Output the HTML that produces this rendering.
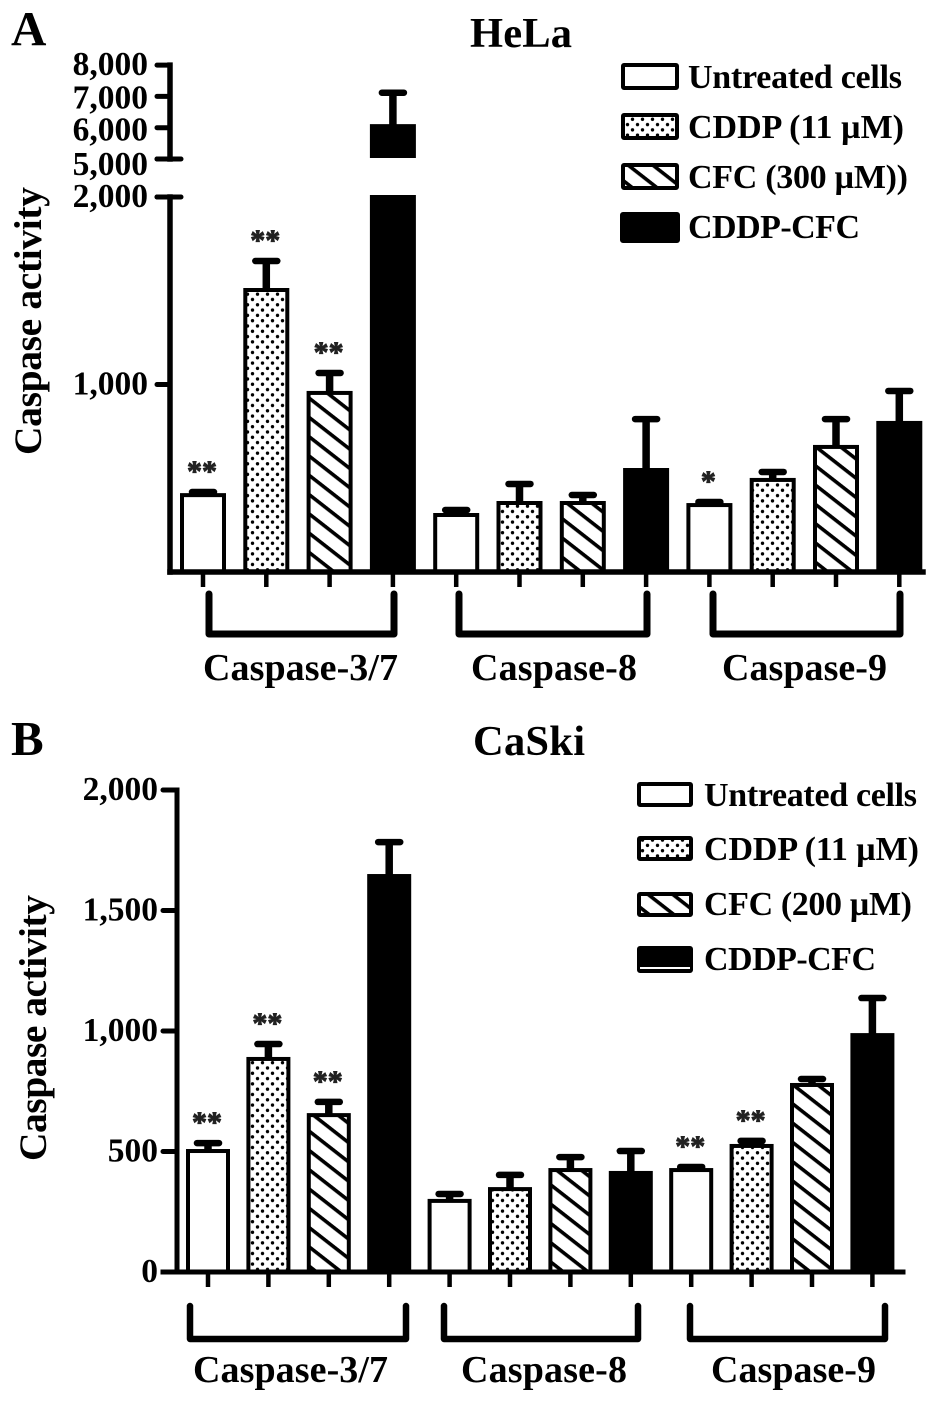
<!DOCTYPE html>
<html lang="en">
<head>
<meta charset="utf-8">
<title>Caspase activity in HeLa and CaSki cells</title>
<style>
html,body{margin:0;padding:0;background:#fff;}
#figure{display:block;width:945px;height:1404px;}
text{font-family:"Liberation Serif",serif;font-weight:bold;fill:#000;}
</style>
</head>
<body>
<svg id="figure" xmlns="http://www.w3.org/2000/svg" width="945" height="1404" viewBox="0 0 945 1404">
<defs>
<pattern id="dots" patternUnits="userSpaceOnUse" width="10" height="10.6">
<circle cx="2.5" cy="2.7" r="1.7" fill="#000"/>
<circle cx="7.5" cy="8" r="1.7" fill="#000"/>
</pattern>
<pattern id="hatch" patternUnits="userSpaceOnUse" width="30" height="15.2" patternTransform="rotate(38)">
<rect x="0" y="0" width="30" height="3.6" fill="#000"/>
</pattern>
</defs>
<rect x="0" y="0" width="945" height="1404" fill="#fff"/>
<g id="panelA">
<text x="11" y="45" font-size="49">A</text>
<text x="470" y="47" font-size="42.5" textLength="102">HeLa</text>
<text transform="translate(41,455) rotate(-90)" font-size="39.5" textLength="268">Caspase activity</text>
<text x="203" y="680" font-size="38" textLength="195">Caspase-3/7</text>
<text x="471" y="680" font-size="38" textLength="166">Caspase-8</text>
<text x="722" y="680" font-size="38" textLength="165">Caspase-9</text>
<g>
<text x="688" y="88" font-size="34" textLength="214">Untreated cells</text>
<text x="688" y="138" font-size="34" textLength="216">CDDP (11 µM)</text>
<text x="688" y="188" font-size="34" textLength="220">CFC (300 µM))</text>
<text x="688" y="238" font-size="34" textLength="172">CDDP-CFC</text>
</g>
</g>
<g id="panelB">
<text x="11" y="755" font-size="49">B</text>
<text x="473" y="755" font-size="42.5" textLength="112">CaSki</text>
<text transform="translate(46,1161) rotate(-90)" font-size="39.5" textLength="266">Caspase activity</text>
<text x="193" y="1382" font-size="38" textLength="195">Caspase-3/7</text>
<text x="461" y="1382" font-size="38" textLength="166">Caspase-8</text>
<text x="711" y="1382" font-size="38" textLength="165">Caspase-9</text>
<g>
<text x="704" y="806" font-size="34" textLength="213">Untreated cells</text>
<text x="704" y="860" font-size="34" textLength="215">CDDP (11 µM)</text>
<text x="704" y="915" font-size="34" textLength="208">CFC (200 µM)</text>
<text x="704" y="970" font-size="34" textLength="172">CDDP-CFC</text>
</g>
</g>
</svg>
<script>
var groups = ['Caspase-3/7', 'Caspase-8', 'Caspase-9'];
var seriesNames = ['untreated', 'cddp', 'cfc', 'cddp-cfc'];

var helaMeans = [410, 1504, 955, 6050, 304, 368, 368, 544, 357, 491, 667, 795];
var helaUpper = [432, 1664, 1067, 7150, 336, 475, 416, 821, 379, 539, 821, 971];
var helaMarks = ['**', '**', '**', '', '', '', '', '', '*', '', '', ''];
var helaTicks = [1000, 2000, 5000, 6000, 7000, 8000];
var helaTickLabels = ['1,000', '2,000', '5,000', '6,000', '7,000', '8,000'];

var caskiMeans = [502, 884, 651, 1643, 295, 344, 423, 411, 423, 523, 776, 983];
var caskiUpper = [539, 950, 710, 1788, 328, 407, 481, 506, 440, 548, 805, 1141];
var caskiMarks = ['**', '**', '**', '', '', '', '', '', '**', '**', '', ''];
var caskiTicks = [0, 500, 1000, 1500, 2000];
var caskiTickLabels = ['0', '500', '1,000', '1,500', '2,000'];

var NS = 'http://www.w3.org/2000/svg';

function yHela(v) {
  if (v <= 2000) { return 572 - v * 0.1875; }
  return 159 - (v - 5000) * 0.0313;
}
function xHela(i) { return 203 + i * 63.3; }
function yCaski(v) { return 1272 - v * 0.241; }
function xCaski(i) { return 208 + i * 60.4; }

function add(parent, tag, attrs) {
  var el = document.createElementNS(NS, tag);
  for (var k in attrs) { el.setAttribute(k, attrs[k]); }
  parent.appendChild(el);
  return el;
}

function fillFor(s) {
  return s === 0 ? '#fff' : s === 1 ? 'url(#dots)' : s === 2 ? 'url(#hatch)' : '#000';
}

function drawBar(parent, x, yTop, yBottom, s, barWidth, name) {
  var back = add(parent, 'rect', {x: x - barWidth / 2, y: yTop, width: barWidth, height: yBottom - yTop, fill: '#fff'});
  
  
  var r = add(parent, 'rect', {x: x - barWidth / 2, y: yTop, width: barWidth, height: yBottom - yTop, fill: fillFor(s), stroke: '#000', 'stroke-width': 4});
  
  
}

function drawSeries(parent, prefix, means, upper, marks, xFn, yFn, base, broken, barWidth) {
  for (var i = 0; i < means.length; i++) {
    var s = i % 4;
    var g = Math.floor(i / 4);
    var cx = xFn(i);
    var tag = prefix + '-' + groups[g].toLowerCase().replace('/', '-') + '-' + seriesNames[s];

    var stem = add(parent, 'line', {x1: cx, x2: cx, y1: yFn(means[i]), y2: yFn(upper[i]), stroke: '#000', 'stroke-width': 7.5});
    
    
    var cap = add(parent, 'line', {x1: cx - 11, x2: cx + 11, y1: yFn(upper[i]) + 1, y2: yFn(upper[i]) + 1, stroke: '#000', 'stroke-width': 6.5, 'stroke-linecap': 'round'});
    
    

    if (broken && means[i] > 2000) {
      drawBar(parent, cx, yFn(means[i]), yFn(5000) - 3, s, barWidth, tag + '-bar-upper');
      drawBar(parent, cx, yFn(2000), base, s, barWidth, tag + '-bar-lower');
    } else {
      drawBar(parent, cx, yFn(means[i]), base, s, barWidth, tag + '-bar');
    }

    var tick = add(parent, 'line', {x1: cx, x2: cx, y1: base, y2: base + 15, stroke: '#000', 'stroke-width': 4.5});
    
    

    if (marks[i]) {
      var star = add(parent, 'text', {x: cx - 1, y: yFn(upper[i]) - 10, 'font-size': 30, 'text-anchor': 'middle', style: 'fill:#222;stroke:#222;stroke-width:0.9'});
      star.textContent = marks[i];
      
      
    }
  }
}

function drawAxisTicks(parent, prefix, ticks, labels, yFn, x1, x2, labelRight, labelY) {
  for (var i = 0; i < ticks.length; i++) {
    var y = yFn(ticks[i]);
    var t = add(parent, 'line', {x1: x1, x2: x2, y1: y, y2: y, stroke: '#000', 'stroke-width': 5, 'stroke-linecap': 'round'});
    
    
    var l = add(parent, 'text', {x: labelRight, y: labelY(ticks[i], y), 'font-size': 33.5, 'text-anchor': 'end'});
    l.textContent = labels[i];
    
    
  }
}

function drawAxisLine(parent, name, x1, y1, x2, y2, w) {
  var a = add(parent, 'line', {x1: x1, y1: y1, x2: x2, y2: y2, stroke: '#000', 'stroke-width': w, 'stroke-linecap': 'square'});
  
  
}

function drawBracket(parent, name, x1, x2, yTop, yBottom, w) {
  var p = add(parent, 'polyline', {points: x1 + ',' + yTop + ' ' + x1 + ',' + yBottom + ' ' + x2 + ',' + yBottom + ' ' + x2 + ',' + yTop, fill: 'none', stroke: '#000', 'stroke-width': w, 'stroke-linecap': 'round', 'stroke-linejoin': 'round'});
  
  
}

function drawSwatch(parent, name, s, x, y, w, h) {
  var r = add(parent, 'rect', {x: x, y: y, width: w, height: h, fill: '#fff'});
  
  
  var f = add(parent, 'rect', {x: x, y: y, width: w, height: h, fill: fillFor(s), stroke: '#000', 'stroke-width': 4, rx: 1});
  
  
}

var panelA = document.getElementById('panelA');
var panelB = document.getElementById('panelB');

/* Panel A */
drawSeries(panelA, 'hela', helaMeans, helaUpper, helaMarks, xHela, yHela, 572, true, 42);
drawAxisLine(panelA, 'hela-y-axis-lower', 170, yHela(2000), 170, 572, 5.5);
drawAxisLine(panelA, 'hela-y-axis-upper', 170, yHela(8000), 170, yHela(5000), 5.5);
drawAxisLine(panelA, 'hela-x-axis', 170, 572, 923, 572, 5.5);
drawAxisTicks(panelA, 'hela', helaTicks, helaTickLabels, yHela, 157, 170, 148, function (v, y) {
  if (v === 5000) { return y + 16; }
  if (v === 6000) { return y + 13; }
  if (v === 7000) { return y + 12; }
  return y + 10;
});
var capTop = add(panelA, 'line', {x1: 157, x2: 181, y1: yHela(2000), y2: yHela(2000), stroke: '#000', 'stroke-width': 5, 'stroke-linecap': 'round'});


var capBottom = add(panelA, 'line', {x1: 157, x2: 181, y1: yHela(5000), y2: yHela(5000), stroke: '#000', 'stroke-width': 5, 'stroke-linecap': 'round'});


drawBracket(panelA, 'hela-bracket-caspase-3-7', 209, 394, 594, 634, 7);
drawBracket(panelA, 'hela-bracket-caspase-8', 459, 647, 594, 634, 7);
drawBracket(panelA, 'hela-bracket-caspase-9', 713, 900, 594, 634, 7);
drawSwatch(panelA, 'hela-legend-swatch-untreated', 0, 623, 65, 54, 23);
drawSwatch(panelA, 'hela-legend-swatch-cddp', 1, 623, 115, 54, 23);
drawSwatch(panelA, 'hela-legend-swatch-cfc', 2, 623, 165, 54, 23);
drawSwatch(panelA, 'hela-legend-swatch-cddp-cfc', 3, 622, 214, 56, 27);

/* Panel B */
drawSeries(panelB, 'caski', caskiMeans, caskiUpper, caskiMarks, xCaski, yCaski, 1272, false, 40);
drawAxisLine(panelB, 'caski-y-axis', 177, yCaski(2000), 177, 1272, 5);
drawAxisLine(panelB, 'caski-x-axis', 163, 1272, 903, 1272, 5);
drawAxisTicks(panelB, 'caski', caskiTicks, caskiTickLabels, yCaski, 163, 177, 158, function (v, y) {
  return y + 10;
});
drawBracket(panelB, 'caski-bracket-caspase-3-7', 190, 406, 1306, 1339, 6.5);
drawBracket(panelB, 'caski-bracket-caspase-8', 444, 638, 1306, 1339, 6.5);
drawBracket(panelB, 'caski-bracket-caspase-9', 690, 885, 1306, 1339, 6.5);
drawSwatch(panelB, 'caski-legend-swatch-untreated', 0, 639, 784, 52, 21);
drawSwatch(panelB, 'caski-legend-swatch-cddp', 1, 639, 838, 52, 21);
drawSwatch(panelB, 'caski-legend-swatch-cfc', 2, 639, 894, 52, 21);
drawSwatch(panelB, 'caski-legend-swatch-cddp-cfc', 3, 639, 948, 52, 23);
var under = add(panelB, 'line', {x1: 640, x2: 690, y1: 968, y2: 968, stroke: '#fff', 'stroke-width': 2});


</script>
</body>
</html>
